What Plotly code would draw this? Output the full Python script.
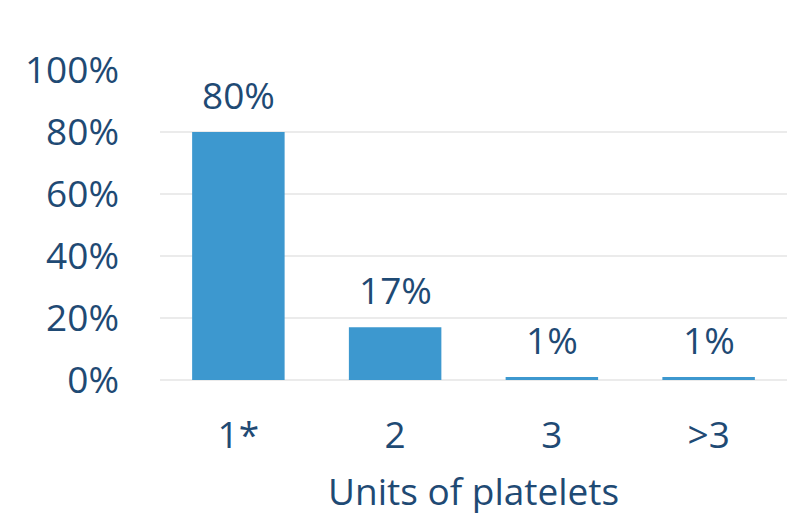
import plotly.graph_objects as go

categories = ["1*", "2", "3", ">3"]
shares = [80, 17, 1, 1]
y_ticks = [0, 20, 40, 60, 80, 100]
x_title = "Units of platelets"

text_color = "#1f4a74"
bar_color = "#3d98cf"
font_size = 37

fig = go.Figure(
    go.Bar(
        x=categories,
        y=shares,
        marker=dict(color=bar_color, line=dict(width=0)),
        cliponaxis=False,
        width=0.59,
    )
)

# Value labels sitting above each bar (category axis positions are indices)
for i, v in enumerate(shares):
    fig.add_annotation(
        x=i,
        y=v,
        text=f"{v}%",
        showarrow=False,
        yanchor="bottom",
        yshift=10,
        font=dict(size=font_size, color=text_color),
    )

# Axis title placed below the tick labels
fig.add_annotation(
    x=0.5,
    y=0,
    xref="paper",
    yref="paper",
    text=x_title,
    showarrow=False,
    yanchor="middle",
    yshift=-110,
    font=dict(size=font_size, color=text_color),
)

fig.update_layout(
    width=791,
    height=513,
    margin=dict(l=160, r=4, t=70, b=133),
    paper_bgcolor="white",
    plot_bgcolor="white",
    font=dict(family="Open Sans", size=font_size, color=text_color),
    showlegend=False,
    xaxis=dict(
        type="category",
        tickfont=dict(size=font_size, color=text_color),
        showgrid=False,
        showline=False,
        ticks="",
        ticklabelstandoff=30,
    ),
    yaxis=dict(
        range=[0, 100],
        tickvals=y_ticks,
        ticktext=[f"{v}%" for v in y_ticks],
        tickfont=dict(size=font_size, color=text_color),
        showgrid=True,
        gridcolor="#ebebeb",
        gridwidth=2,
        zeroline=True,
        zerolinecolor="#ebebeb",
        zerolinewidth=2,
        showline=False,
        ticks="",
        ticklabelstandoff=40,
    ),
)

fig.write_html("out.html")
